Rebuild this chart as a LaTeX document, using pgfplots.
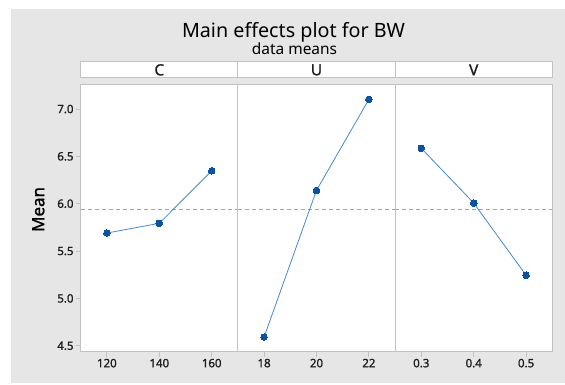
\documentclass[border=0pt]{standalone}
\usepackage{pgfplots}
\pgfplotsset{compat=1.18}
\usepackage{fontspec}
\setmainfont{Noto Sans}
\newfontfamily\sbf{Noto Sans}[FakeBold=1.3]
\definecolor{bg}{HTML}{E6E6E6}
\definecolor{frame}{HTML}{C2C2C2}
\definecolor{ln}{HTML}{4389D6}
\definecolor{mk}{HTML}{0B52A5}
\definecolor{txt}{HTML}{1E1E1E}
\pgfplotsset{
  panel/.style={
    scale only axis, width=157.2bp, height=267.4bp,
    ymin=4.437, ymax=7.261,
    axis line style={frame, line width=0.9bp},
    tick style={frame, line width=0.9bp},
    tick align=outside, major tick length=5bp,
    xtick pos=bottom, ytick pos=left,
    ytick={4.5,5.0,5.5,6.0,6.5,7.0},
    /pgf/number format/assume math mode=true,
    yticklabel style={/pgf/number format/fixed,/pgf/number format/fixed zerofill,/pgf/number format/precision=1, font=\sbf\fontsize{11.5}{13}\selectfont, text=txt},
    xticklabel style={font=\sbf\fontsize{11.5}{13}\selectfont, text=txt},
    tick label style={inner sep=2bp},
    title style={at={(0.5,1)}, anchor=south, draw=frame, line width=0.9bp, fill=white,
      minimum width=157.2bp, minimum height=16bp, inner sep=0pt, yshift=0pt,
      font=\sbf\fontsize{15.5}{16}\selectfont, text=txt},
    clip=false,
  },
  dat/.style={ln, line width=0.8bp, mark=*, mark size=3.3bp, mark options={mk, fill=mk, line width=0pt}},
  ref/.style={frame!85!black, line width=0.8bp, dash pattern=on 4bp off 3bp},
}
\begin{document}
\begin{tikzpicture}
\path[use as bounding box, fill=white] (0bp,0bp) rectangle (565bp,385bp);
\fill[bg] (11bp,2bp) rectangle (565bp,376bp);
\node[anchor=base, font=\fontsize{19.8}{21}\selectfont, text=black] at (293.5bp,347.7bp) {Main effects plot for BW};
\node[anchor=base, font=\fontsize{15.5}{17}\selectfont, text=black] at (294.5bp,330bp) {data means};

\begin{axis}[panel, at={(80.7bp,33.3bp)}, anchor=south west, axis background/.style={fill=white},
  xmin=110, xmax=170, xtick={120,140,160}, title={C},
  ylabel={Mean}, ylabel style={at={(axis description cs:-0.27,0.532)}, anchor=center, font=\sbf\fontsize{17}{18}\selectfont, text=black}]
\addplot[ref] coordinates {(110,5.945) (170,5.945)};
\addplot[dat] coordinates {(120,5.690) (140,5.793) (160,6.348)};
\end{axis}

\begin{axis}[panel, at={(237.9bp,33.3bp)}, anchor=south west, axis background/.style={fill=white},
  xmin=17, xmax=23, xtick={18,20,22}, ytick=\empty, title={U}]
\addplot[ref] coordinates {(17,5.945) (23,5.945)};
\addplot[dat] coordinates {(18,4.592) (20,6.141) (22,7.102)};
\end{axis}

\begin{axis}[panel, at={(395.1bp,33.3bp)}, anchor=south west, axis background/.style={fill=white},
  xmin=0.25, xmax=0.55, xtick={0.3,0.4,0.5}, ytick=\empty, title={V},
  xticklabel style={/pgf/number format/fixed,/pgf/number format/fixed zerofill,/pgf/number format/precision=1}]
\addplot[ref] coordinates {(0.25,5.945) (0.55,5.945)};
\addplot[dat] coordinates {(0.3,6.585) (0.4,6.007) (0.5,5.244)};
\end{axis}
\end{tikzpicture}
\end{document}
